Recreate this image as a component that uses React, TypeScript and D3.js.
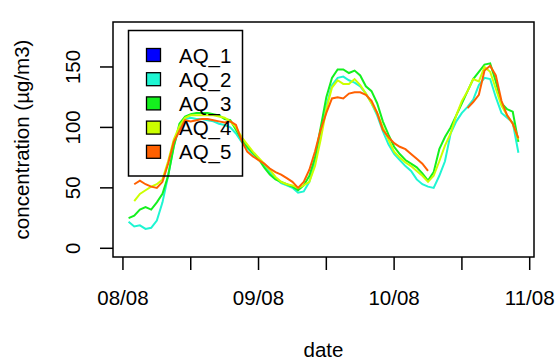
import React from "react";
import * as d3 from "d3";

// hourly readings, index 0 = 08/08 01:00, null = missing
const seriesNames = ["AQ_1", "AQ_2", "AQ_3", "AQ_4", "AQ_5"];
const seriesColors = ["#0000FF", "#1EF5D2", "#14F01E", "#CCFF00", "#FF6000"];

const aq1: (number | null)[] = [];
const aq2 = [
  22, 18, 19, 16, 17, 23, 38, 60, 85, 100, 107, 108, 107, 107, 106, 105, 103, 102, 100, 95,
  88, 83, 78, 74, 69, 63, 58, 54, 52, 50, 46, 47, 55, 72, 95, 118, 135, 141, 142, 139,
  137, 134, 128, 120, 110, 97, 86, 78, 73, 68, 64, 57, 53, 51, 50, 60, 72, 95, 105, 112,
  117, 123, 135, 141, 140, 125, 112, 108, 104, 79,
];
const aq3 = [
  25, 27, 32, 34, 32, 38, 45, 60, 84, 103, 109, 111, 112, 112, 112, 111, 110, 107, 106, 98,
  90, 84, 79, 74, 67, 61, 57, 55, 53, 51, 48, 52, 60, 75, 100, 125, 141, 148, 148, 145,
  147, 143, 134, 130, 120, 105, 94, 84, 78, 73, 70, 67, 62, 56, 63, 82, 92, 100, 110, 120,
  130, 140, 146, 152, 153, 138, 120, 115, 113, 88,
];
const aq4 = [
  null, 39, 45, 48, 51, 53, 57, 72, 90, 101, 108, 110, 110, 110, 110, 110, 109, 108, 105, 100,
  92, 86, 80, 75, 70, 65, 59, 55, 53, 52, 50, 52, 55, 68, 90, 115, 133, 139, 136, 136,
  140, 135, 128, 120, 112, 100, 90, 80, 75, 71, 68, 64, 60, 55, 60, 72, 85, 95, 110, 122,
  130, 140, 138, 150, 146, 132, 118, 110, 103, 90,
];
const aq5 = [
  null, 53, 56, 53, 51, 50, 55, 70, 88, 97, 106, 105, 106, 107, 107, 106, 105, 104, 105, 102,
  89, 80, 76, 73, 70, 66, 63, 61, 58, 55, 50, 55, 65, 80, 98, 112, 124, 125, 124, 128,
  129, 129, 127, 122, 112, 98, 92, 87, 84, 82, 78, 74, 70, 64, null, null, null, null, null, null,
  116, 121, 127, 147, 151, 143, 122, 110, 103, 91,
];

const yTicks = [0, 50, 100, 150];
const xTickLabels = ["08/08", "09/08", "10/08", "11/08"];

const W = 559;
const H = 361;
const FONT = "'Liberation Sans', Arial, Helvetica, sans-serif";

const App = () => {
  const t0 = Date.UTC(2016, 7, 8, 0);
  const hour = 3600 * 1000;
  const allSeries = [aq1, aq2, aq3, aq4, aq5];
  const nPts = aq2.length;
  const times = d3.range(nPts).map((i) => new Date(t0 + (i + 1) * hour));

  const box = { left: 113, right: 534, top: 22, bottom: 257 };

  // R style 4% extension of the data range
  const tExt = d3.extent(times) as [Date, Date];
  const span = +tExt[1] - +tExt[0];
  const x = d3
    .scaleUtc()
    .domain([new Date(+tExt[0] - span * 0.04), new Date(+tExt[1] + span * 0.04)])
    .range([box.left, box.right]);
  const y = d3
    .scaleLinear()
    .domain([0 - 180 * 0.04, 180 + 180 * 0.04])
    .range([box.bottom, box.top]);

  const xTicks = d3.utcHour.every(12)!.range(new Date(t0), new Date(t0 + 73 * hour));

  const line = d3
    .line<number | null>()
    .defined((d) => d != null)
    .x((_, i) => x(times[i]))
    .y((d) => y(d as number));

  const legX = 128.5;
  const legY = 30.5;
  const rowH = 24.2;

  return (
    <svg
      width={W}
      height={H}
      style={{ position: "absolute", left: 0, top: 0, background: "#fff" }}
      fontFamily={FONT}
    >
      {allSeries.map((s, k) => (
        <path key={k} d={line(s) || ""} fill="none" stroke={seriesColors[k]} strokeWidth={2} />
      ))}
      <rect
        x={box.left}
        y={box.top}
        width={box.right - box.left}
        height={box.bottom - box.top}
        fill="none"
        stroke="#000"
        strokeWidth={1.5}
      />
      {/* y axis */}
      {yTicks.map((v) => (
        <g key={v}>
          <line x1={box.left} x2={box.left - 13} y1={y(v)} y2={y(v)} stroke="#000" strokeWidth={1.5} />
          <text
            transform={`translate(80,${y(v)}) rotate(-90)`}
            textAnchor="middle"
            fontSize={20.5}
          >
            {v}
          </text>
        </g>
      ))}
      {/* x axis */}
      {xTicks.map((t, i) => (
        <line
          key={i}
          x1={x(t)}
          x2={x(t)}
          y1={box.bottom}
          y2={box.bottom + 13}
          stroke="#000"
          strokeWidth={1.5}
        />
      ))}
      {xTicks
        .filter((t) => t.getUTCHours() === 0)
        .map((t, i) => (
          <text key={i} x={x(t)} y={305} textAnchor="middle" fontSize={20.5}>
            {xTickLabels[i]}
          </text>
        ))}
      <text x={(box.left + box.right) / 2} y={357} textAnchor="middle" fontSize={20.5}>
        date
      </text>
      <text
        transform={`translate(28.5,${(box.top + box.bottom) / 2}) rotate(-90)`}
        textAnchor="middle"
        fontSize={20.5}
      >
        concentration (µg/m3)
      </text>
      {/* legend, transparent background like R's default */}
      <rect x={legX} y={legY} width={114} height={145.5} fill="none" stroke="#000" strokeWidth={1.5} />
      {seriesNames.map((name, k) => {
        const cy = 55 + k * rowH;
        return (
          <g key={name}>
            <rect x={146.5} y={cy - 6.5} width={14} height={13} fill={seriesColors[k]} stroke="#000" strokeWidth={1.3} />
            <text x={179} y={cy + 7.5} fontSize={20.5}>
              {name}
            </text>
          </g>
        );
      })}
    </svg>
  );
};

export default App;
